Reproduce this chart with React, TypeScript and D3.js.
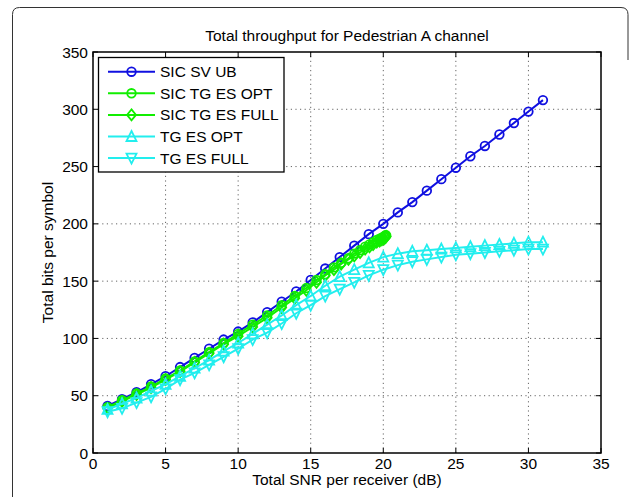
import React from "react";
import { scaleLinear, line } from "d3";

// SNR grid used by the blue and cyan curves
const snrSteps = [1, 2, 3, 4, 5, 6, 7, 8, 9, 10, 11, 12, 13, 14, 15, 16, 17, 18, 19, 20, 21, 22, 23, 24, 25, 26, 27, 28, 29, 30, 31];
// the green curves saturate near 20 dB, so their points crowd together
const greenSnr = [1, 2, 3, 4, 5, 6, 7, 8, 9, 10, 11, 12, 13, 13.9, 14.7, 15.4, 16.0, 16.6, 17.1, 17.6, 18.0, 18.4, 18.75, 19.05, 19.3, 19.55, 19.75, 19.9, 20.05, 20.15, 20.2];

const sicSvUb = [41, 47, 53, 60, 67, 75, 83, 91, 99, 106, 114, 123, 132, 141, 151, 161, 171, 181, 191, 200, 210, 219, 229, 239, 249, 259, 268, 278, 288, 298, 308];
const sicTgEsOpt = [40, 46, 52, 58, 65, 72, 80, 88, 96, 104, 112, 120, 129, 137, 144, 151, 156, 162, 166, 170, 174, 177, 180, 182, 184, 186, 187, 188, 189, 190, 190];
const sicTgEsFull = [39, 45, 51, 57, 64, 71, 79, 87, 95, 102, 110, 118, 127, 135, 142, 149, 155, 160, 165, 169, 172, 175, 178, 180, 182, 184, 185, 186, 187, 188, 189];
const tgEsOpt = [38, 43, 48, 54, 60, 67, 74, 81, 89, 96, 104, 112, 120, 129, 137, 146, 154, 160, 166, 171, 174, 176, 177, 178, 179, 180, 181, 182, 183, 184, 184];
const tgEsFull = [36, 39, 44, 49, 56, 64, 70, 77, 84, 91, 99, 105, 113, 122, 129, 137, 143, 149, 155, 160, 164, 167, 169, 171, 173, 174, 175, 176, 177, 178, 178];

const xTicks = [0, 5, 10, 15, 20, 25, 30, 35];
const yTicks = [0, 50, 100, 150, 200, 250, 300, 350];

const seriesNames = ["SIC SV UB", "SIC TG ES OPT", "SIC TG ES FULL", "TG ES OPT", "TG ES FULL"];

type Marker = "circle" | "diamond" | "up" | "down";

const markerPath = (m: Marker) => {
  if (m === "circle") return "M4.3,0A4.3,4.3 0 1,1 -4.3,0A4.3,4.3 0 1,1 4.3,0Z";
  if (m === "diamond") return "M0,-5.5L4.5,0L0,5.5L-4.5,0Z";
  if (m === "up") return "M0,-5.5L5,4.5L-5,4.5Z";
  return "M0,5.5L5,-4.5L-5,-4.5Z";
};

export default function App() {
  const width = 635;
  const height = 497;
  const margin = { left: 93, right: 34, top: 52, bottom: 44 };
  const font = "'Liberation Sans', Arial, Helvetica, sans-serif";
  const fs = 15.5;

  const x = scaleLinear().domain([0, 35]).range([margin.left, width - margin.right]);
  const y = scaleLinear().domain([0, 350]).range([height - margin.bottom, margin.top]);

  const series = [
    { name: seriesNames[0], xs: snrSteps, ys: sicSvUb, color: "#1010e0", marker: "circle" as Marker },
    { name: seriesNames[1], xs: greenSnr, ys: sicTgEsOpt, color: "#11ee00", marker: "circle" as Marker },
    { name: seriesNames[2], xs: greenSnr, ys: sicTgEsFull, color: "#11ee00", marker: "diamond" as Marker },
    { name: seriesNames[3], xs: snrSteps, ys: tgEsOpt, color: "#22eeee", marker: "up" as Marker },
    { name: seriesNames[4], xs: snrSteps, ys: tgEsFull, color: "#22eeee", marker: "down" as Marker },
  ];

  const lineGen = line<[number, number]>().x(d => x(d[0])).y(d => y(d[1]));

  const x0 = x(0), x1 = x(35), y0 = y(0), y1 = y(350);
  const tickLen = 5;

  const legend = { x: 98.5, y: 57.5, w: 185.5, h: 114.5, rowH: 21.6 };

  return (
    <svg width={width} height={height} style={{ display: "block", position: "absolute", left: 0, top: 0 }} fontFamily={font}>
      <rect width={width} height={height} fill="white" />
      {/* outer figure frame */}
      <path d="M12.5,497 L12.5,14.5 Q12.5,7.5 19.5,7.5 L621,7.5 Q628,7.5 628,14.5 L628,60" fill="none" stroke="#333" strokeWidth={1} />

      <text x={(x0 + x1) / 2} y={41} textAnchor="middle" fontSize={fs}>Total throughput for Pedestrian A channel</text>

      {/* grid */}
      {xTicks.slice(1, -1).map(t => (
        <line key={`gx${t}`} x1={x(t)} x2={x(t)} y1={y0} y2={y1} stroke="#666" strokeDasharray="1.2,3.4" />
      ))}
      {yTicks.slice(1, -1).map(t => (
        <line key={`gy${t}`} x1={x0} x2={x1} y1={y(t)} y2={y(t)} stroke="#666" strokeDasharray="1.2,3.4" />
      ))}

      {/* ticks on all four sides */}
      {xTicks.map(t => (
        <g key={`tx${t}`}>
          <line x1={x(t)} x2={x(t)} y1={y0} y2={y0 - tickLen} stroke="#000" />
          <line x1={x(t)} x2={x(t)} y1={y1} y2={y1 + tickLen} stroke="#000" />
          <text x={x(t)} y={y0 + 16} textAnchor="middle" fontSize={fs}>{t}</text>
        </g>
      ))}
      {yTicks.map(t => (
        <g key={`ty${t}`}>
          <line x1={x0} x2={x0 + tickLen} y1={y(t)} y2={y(t)} stroke="#000" />
          <line x1={x1} x2={x1 - tickLen} y1={y(t)} y2={y(t)} stroke="#000" />
          <text x={x0 - 5} y={y(t) + 5.5} textAnchor="end" fontSize={fs}>{t}</text>
        </g>
      ))}

      {/* data */}
      {series.map(s => {
        const pts = s.xs.map((v, i) => [v, s.ys[i]] as [number, number]);
        return (
          <g key={s.name}>
            <path d={lineGen(pts) || ""} fill="none" stroke={s.color} strokeWidth={2} />
            {pts.map((p, i) => (
              <path key={i} d={markerPath(s.marker)} transform={`translate(${x(p[0])},${y(p[1])})`} fill="none" stroke={s.color} strokeWidth={1.8} />
            ))}
          </g>
        );
      })}

      {/* axes box */}
      <rect x={x0} y={y1} width={x1 - x0} height={y0 - y1} fill="none" stroke="#000" strokeWidth={1.5} />

      <text x={(x0 + x1) / 2} y={485} textAnchor="middle" fontSize={fs}>Total SNR per receiver (dB)</text>
      <text transform={`translate(53,${(y0 + y1) / 2}) rotate(-90)`} textAnchor="middle" fontSize={fs}>Total bits per symbol</text>

      {/* legend */}
      <rect x={legend.x} y={legend.y} width={legend.w} height={legend.h} fill="white" stroke="#000" strokeWidth={1.3} />
      {series.map((s, i) => {
        const ly = legend.y + 14.2 + i * legend.rowH;
        return (
          <g key={`lg${s.name}`}>
            <line x1={108} x2={155} y1={ly} y2={ly} stroke={s.color} strokeWidth={2} />
            <path d={markerPath(s.marker)} transform={`translate(131.5,${ly})`} fill="none" stroke={s.color} strokeWidth={1.8} />
            <text x={160} y={ly + 5.5} fontSize={fs}>{s.name}</text>
          </g>
        );
      })}
    </svg>
  );
}
